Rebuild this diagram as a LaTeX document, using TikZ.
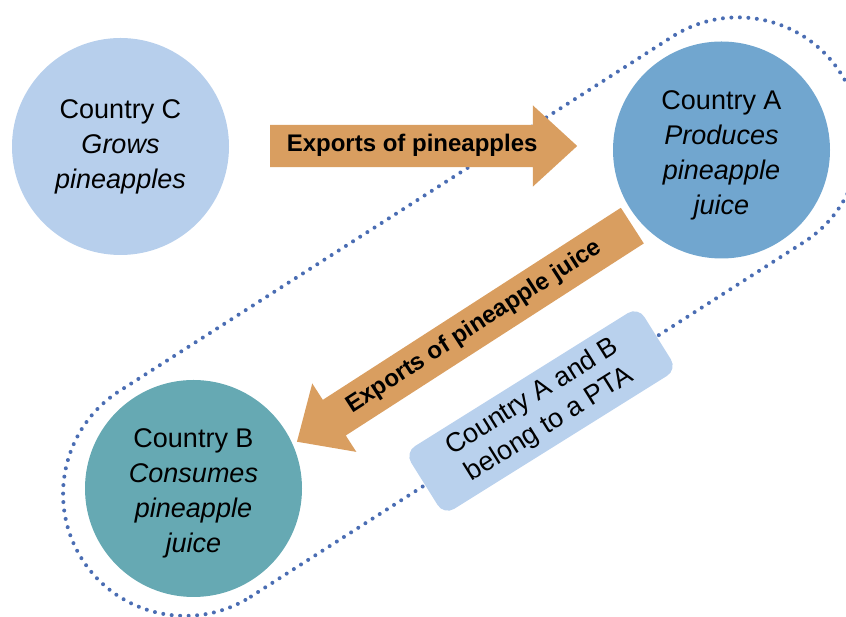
\documentclass[tikz,border=0pt]{standalone}
\usepackage{fontspec}
\setmainfont{Liberation Sans}
\usetikzlibrary{shapes.arrows}
\definecolor{growblue}{HTML}{B7CFEC}
\definecolor{produceblue}{HTML}{71A6CF}
\definecolor{consumeteal}{HTML}{66A9B3}
\definecolor{exportorange}{HTML}{D99E60}
\definecolor{ptablue}{HTML}{B9D1ED}
\definecolor{dotblue}{HTML}{4A6DB3}
\tikzset{
  country/.style={circle, minimum size=217pt, inner sep=0pt, align=center,
    font=\fontsize{27}{35}\selectfont},
  fourlines/.style={text height=135pt, text depth=6pt},
  flowarrow/.style={single arrow, fill=exportorange, anchor=tail,
    font=\bfseries\fontsize{24}{28}\selectfont, text height=17pt, text depth=5pt,
    inner ysep=10pt, inner xsep=8pt, single arrow head extend=19.5pt,
    single arrow tip angle=85, single arrow head indent=0pt},
  ptabox/.style={rectangle, rounded corners=12pt, fill=ptablue, align=center,
    minimum width=275pt, minimum height=74pt, font=\fontsize{27}{32}\selectfont}
}
\begin{document}
\begin{tikzpicture}[x=1pt,y=1pt]
\clip (0,0) rectangle (846,617);
% dotted ring round the PTA
\begin{scope}[shift={(193.5,128.5)}, rotate=32.66]
\draw [dotblue, line width=4pt, line cap=round, dash pattern=on 0pt off 8.5pt]
  (-10,-122) -- (647,-122) arc (-90:90:122) -- (-10,122) arc (90:270:122) -- cycle;
\end{scope}
\node [country, fill=growblue] (countryC) at (120.5,470.5) {Country C\\\textit{Grows}\\\textit{pineapples}};
\node [country, fourlines, fill=produceblue] (countryA) at (721.5,467) {Country A\\\textit{Produces}\\\textit{pineapple}\\\textit{juice}};
\node [country, fourlines, fill=consumeteal] (countryB) at (193.5,128.5) {Country B\\\textit{Consumes}\\\textit{pineapple}\\\textit{juice}};
\node [flowarrow, minimum height=307pt] (pineapples) at (270,471) {Exports of pineapples};
\node [flowarrow, minimum height=399pt, rotate=32.8, shape border rotate=180] (juice) at (632.5,391.5) {Exports of pineapple juice};
\node [ptabox, rotate=32] (pta) at (541,206) {Country A and B\\belong to a PTA};
\end{tikzpicture}
\end{document}
